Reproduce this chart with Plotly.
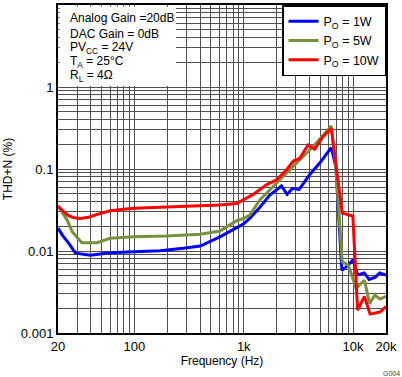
import math
import plotly.graph_objects as go

# ---- data ----
freq_1w = [20, 22, 25.1, 28.9, 39.6, 60, 98, 172, 281, 400, 606, 801, 1000, 1138, 1400, 1730, 2000, 2212,
           2490, 2790, 3200, 4000, 5000, 6318, 6960, 7900, 8800, 10000, 11000, 12650, 14000, 16000, 17500, 20000]
thd_1w = [0.019, 0.0155, 0.0124, 0.0094, 0.0089, 0.0095, 0.0098, 0.0101, 0.0108, 0.0115, 0.0149, 0.0184, 0.0215,
          0.0252, 0.034, 0.048, 0.056, 0.062, 0.049, 0.058, 0.056, 0.085, 0.12, 0.182, 0.107, 0.0058, 0.0065,
          0.0078, 0.0051, 0.0054, 0.0045, 0.0048, 0.0054, 0.0051]

freq_5w = [20, 24.2, 27, 33, 45.6, 60, 98, 197, 400, 606, 859, 1000, 1138, 1403, 1990, 2631, 3251, 4448,
           6318, 6900, 7960, 9000, 9610, 10670, 12700, 14170, 15800, 17600, 20000]
thd_5w = [0.0354, 0.024, 0.0172, 0.0126, 0.0126, 0.0143, 0.0149, 0.0152, 0.016, 0.0175, 0.0234, 0.025, 0.0275,
          0.042, 0.067, 0.097, 0.129, 0.196, 0.335, 0.12, 0.0074, 0.0068, 0.0053, 0.0035, 0.0044, 0.0023,
          0.0029, 0.0026, 0.0028]

freq_10w = [20, 22, 25, 28, 32, 38, 49, 60, 79, 100, 150, 200, 300, 400, 600, 860, 990, 1220, 1610, 1990,
            2450, 2850, 3250, 3870, 4450, 5300, 6318, 7960, 9950, 11000, 12700, 14300, 17600, 20000]
thd_10w = [0.0354, 0.031, 0.027, 0.0255, 0.025, 0.0258, 0.0288, 0.031, 0.0323, 0.0332, 0.034, 0.0345, 0.035,
           0.0354, 0.0365, 0.038, 0.042, 0.049, 0.064, 0.0735, 0.097, 0.125, 0.135, 0.196, 0.174, 0.248, 0.313,
           0.029, 0.0267, 0.0019, 0.0028, 0.0017, 0.0018, 0.0021]

series_names = ["P<sub>O</sub> = 1W", "P<sub>O</sub> = 5W", "P<sub>O</sub> = 10W"]
series_colors = ["#0000FF", "#76923C", "#FF0000"]

x_tickvals = [20, 100, 1000, 10000, 20000]
x_ticktext = ["20", "100", "1k", "10k", "20k"]
y_tickvals = [0.001, 0.01, 0.1, 1, 10]
y_ticktext = ["0.001", "0.01", "0.1", "1", "10"]

conditions = ["Analog Gain =20dB", "DAC Gain = 0dB", "PV<sub>CC</sub> = 24V",
              "T<sub>A</sub> = 25°C", "R<sub>L</sub> = 4Ω"]

# ---- figure ----
FONT = "Liberation Sans, Arial, sans-serif"
GRID = "#505050"

fig = go.Figure()
for fx, fy, name, col in zip([freq_1w, freq_5w, freq_10w], [thd_1w, thd_5w, thd_10w],
                             series_names, series_colors):
    fig.add_trace(go.Scatter(x=fx, y=fy, mode="lines", name=name,
                             line=dict(color=col, width=3)))

x_minor = [m * 10 ** d for d in range(1, 4) for m in range(2, 10) if 20 < m * 10 ** d < 20000]
y_minor = [m * 10.0 ** d for d in range(-3, 1) for m in range(2, 10)]

fig.update_xaxes(type="log", range=[math.log10(20), math.log10(20000)], automargin=False,
                 tickmode="array", tickvals=x_tickvals, ticktext=x_ticktext,
                 showgrid=True, gridcolor=GRID, gridwidth=1,
                 minor=dict(tickmode="array", tickvals=x_minor, showgrid=True, gridcolor=GRID, gridwidth=1, ticks=""),
                 showline=True, linecolor="black", linewidth=2, mirror=True, ticks="",
                 tickfont=dict(size=13, color="black"),
                 title=dict(text="Frequency (Hz)", font=dict(size=12, color="black"), standoff=4))
fig.update_yaxes(type="log", range=[-3, 1], automargin=False,
                 tickmode="array", tickvals=y_tickvals, ticktext=y_ticktext,
                 showgrid=True, gridcolor=GRID, gridwidth=1,
                 minor=dict(tickmode="array", tickvals=y_minor, showgrid=True, gridcolor=GRID, gridwidth=1, ticks=""),
                 showline=True, linecolor="black", linewidth=2, mirror=True, ticks="",
                 tickfont=dict(size=13, color="black"),
                 title=dict(text="THD+N (%)", font=dict(size=12, color="black"), standoff=6))

# white box behind the condition text
fig.add_shape(type="rect", xref="x domain", yref="y domain",
              x0=0.005, x1=0.36, y0=0.753, y1=0.995,
              fillcolor="white", line=dict(width=0), layer="above")

ys = [0.960, 0.912, 0.869, 0.826, 0.784]
for txt, yy in zip(conditions, ys):
    fig.add_annotation(text=txt, xref="x domain", yref="y domain", x=0.029, y=yy,
                       xanchor="left", yanchor="middle", showarrow=False,
                       font=dict(size=12, color="black", family=FONT))

fig.add_annotation(text="G004", xref="paper", yref="paper", x=1.05, y=-0.122,
                   xanchor="right", yanchor="middle", showarrow=False,
                   font=dict(size=7, color="#444444", family=FONT))

fig.update_layout(
    width=402, height=377,
    margin=dict(l=57.5, r=15.5, t=5, b=44, autoexpand=False),
    plot_bgcolor="white", paper_bgcolor="white",
    font=dict(family=FONT, color="black"),
    legend=dict(x=1, xanchor="right", y=1, yanchor="top",
                bgcolor="white", bordercolor="black", borderwidth=1.5,
                font=dict(size=12.5, color="black", family=FONT),
                tracegroupgap=0, itemwidth=30),
)

fig.write_html("out.html", config={"displayModeBar": False},
               post_script="document.body.style.margin='0';")
